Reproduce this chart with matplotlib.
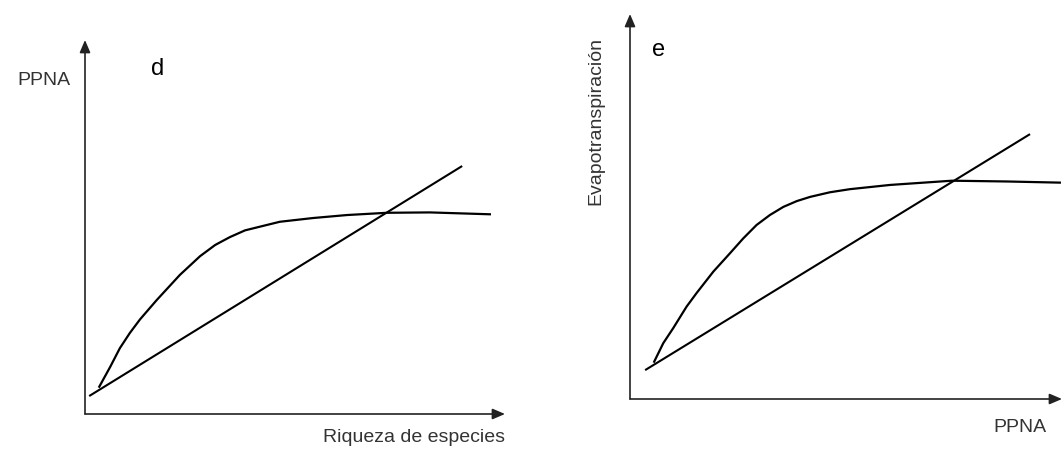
import numpy as np
import matplotlib
matplotlib.use("Agg")
import matplotlib.pyplot as plt

plt.rcParams['font.family'] = ['Liberation Sans', 'DejaVu Sans']

# panel d: PPNA vs riqueza de especies (axis units 0-100)
d_line_x = [1.0, 89.8]
d_line_y = [4.8, 66.3]
d_curve_x = [3.4, 6.0, 8.3, 10.7, 13.1, 17.1, 22.6, 27.4, 31.0, 34.5, 38.1, 41.7, 46.4,
             54.3, 62.4, 71.9, 82.1, 96.4]
d_curve_y = [7.3, 12.6, 17.6, 21.7, 25.3, 30.5, 37.2, 42.2, 45.2, 47.3, 49.1, 50.1, 51.4,
             52.4, 53.2, 53.8, 53.9, 53.4]

# panel e: evapotranspiracion vs PPNA
e_line_x = [3.5, 92.6]
e_line_y = [7.5, 68.8]
e_curve_x = [5.6, 7.7, 10.0, 13.1, 15.4, 19.3, 23.1, 26.2, 29.3, 32.4, 35.5, 38.6, 41.7,
             46.3, 50.9, 60.2, 74.5, 87.2, 99.5]
e_curve_y = [9.7, 14.5, 18.4, 24.0, 27.5, 33.1, 37.8, 41.7, 45.2, 47.8, 49.9, 51.4, 52.5,
             53.7, 54.5, 55.6, 56.7, 56.5, 56.2]

W, H = 1063, 451
fig = plt.figure(figsize=(W / 100, H / 100), dpi=100)

# origen y extremo de flechas en pixeles
axd = fig.add_axes([85 / W, (H - 414) / H, 420 / W, 374 / H])
axe = fig.add_axes([630 / W, (H - 399) / H, 432 / W, 385 / H])


def ejes(ax):
    ax.set_xlim(0, 100)
    ax.set_ylim(0, 100)
    for s in ax.spines.values():
        s.set_visible(False)
    ax.set_xticks([])
    ax.set_yticks([])
    ax.patch.set_alpha(0)
    props = dict(arrowstyle='-|>,head_length=0.75,head_width=0.32', lw=1.2,
                 color='#222222', shrinkA=0, shrinkB=0, mutation_scale=10)
    ax.annotate('', xy=(1, 0), xytext=(0, 0), xycoords='axes fraction',
                textcoords='axes fraction', arrowprops=props)
    ax.annotate('', xy=(0, 1), xytext=(0, 0), xycoords='axes fraction',
                textcoords='axes fraction', arrowprops=props)


ejes(axd)
axd.plot(d_line_x, d_line_y, color='black', lw=1.5, solid_capstyle='butt')
axd.plot(d_curve_x, d_curve_y, color='black', lw=1.6, solid_joinstyle='round')
axd.text(-9.8, 89.3, 'PPNA', fontsize=14, color='#333333', ha='center', va='center')
axd.text(17.4, 92.2, 'd', fontsize=17, color='black', ha='center', va='center')
axd.text(100, -6.4, 'Riqueza de especies', fontsize=14, color='#333333',
         ha='right', va='center')

ejes(axe)
axe.plot(e_line_x, e_line_y, color='black', lw=1.5, solid_capstyle='butt')
axe.plot(e_curve_x, e_curve_y, color='black', lw=1.6, solid_joinstyle='round')
axe.text(6.5, 90.6, 'e', fontsize=17, color='black', ha='center', va='center')
axe.text(-7.9, 72.2, 'Evapotranspiración', fontsize=14, color='#333333',
         rotation=90, ha='center', va='center')
axe.text(90.3, -7.3, 'PPNA', fontsize=14, color='#333333', ha='center', va='center')

for ax in (axd, axe):
    for t in ax.texts:
        t.set_clip_on(False)

fig.savefig('out.png', dpi=100)
